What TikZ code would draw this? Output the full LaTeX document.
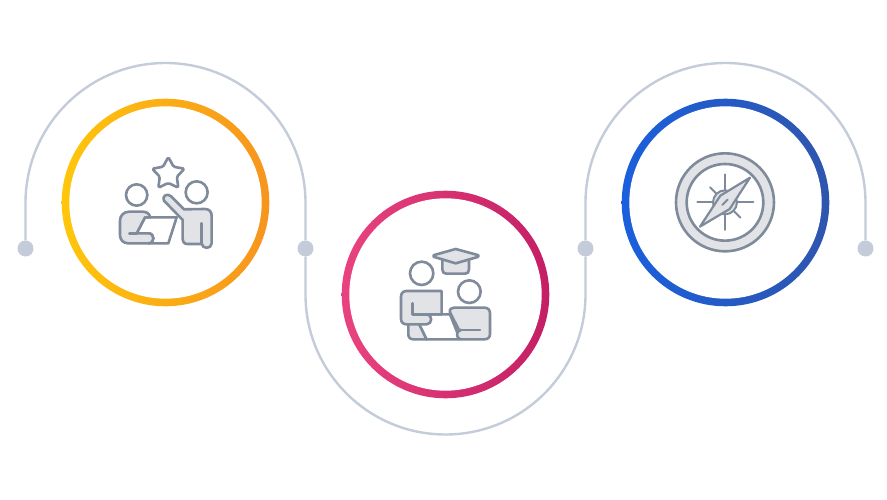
\documentclass[tikz,border=0pt]{standalone}
\usepackage{tikz}
\usetikzlibrary{shapes.geometric}
\definecolor{linecol}{HTML}{C4CCD9}
\definecolor{iconcol}{HTML}{7F8A9B}
\definecolor{iconfill}{HTML}{E2E3E6}
\definecolor{ringyellowA}{HTML}{FFC60B}
\definecolor{ringyellowB}{HTML}{F7941D}
\definecolor{ringpinkA}{HTML}{E9437F}
\definecolor{ringpinkB}{HTML}{C41F66}
\definecolor{ringblueA}{HTML}{1A5FDD}
\definecolor{ringblueB}{HTML}{2F56AE}
\tikzset{
  link/.style={draw=linecol, line width=2.4pt},
  dot/.style={circle, fill=linecol, minimum size=16pt, inner sep=0pt},
  ring/.style={circle, minimum size=207.6pt, inner sep=0pt},
  hole/.style={circle, fill=white, minimum size=192.4pt, inner sep=0pt},
  icon/.style={draw=iconcol, line width=2.6pt, line join=round, line cap=round},
  iconbody/.style={icon, fill=iconfill},
  iconwhite/.style={icon, fill=white},
  zoomed/.style={x=0.3333pt, y=-0.3333pt}
}
\begin{document}
\begin{tikzpicture}[x=1pt, y=-1pt]

    \useasboundingbox (0, 0) rectangle (887, 500);
    \fill[white] (0, 0) rectangle (887, 500);

    \node[dot] (dot1) at (25.5, 248.5) {};
    \node[dot] (dot2) at (305.5, 248.5) {};
    \node[dot] (dot3) at (585.5, 248.5) {};
    \node[dot] (dot4) at (865.5, 248.5) {};

    % connectors
    \draw[link] (dot1.north) -- (25.5, 203) arc (180:360:140) -- (dot2.north);
    \draw[link] (dot2.south) -- (305.5, 294.5) arc (180:0:140) -- (dot3.south);
    \draw[link] (dot3.north) -- (585.5, 203) arc (180:360:140) -- (dot4.north);

    % rings
    \node[ring, left color=ringyellowA, right color=ringyellowB] (ring1) at (165.5, 202.5) {};
    \node[hole] (hole1) at (ring1) {};
    \node[ring, left color=ringpinkA, right color=ringpinkB] (ring2) at (445.5, 294.5) {};
    \node[hole] (hole2) at (ring2) {};
    \node[ring, left color=ringblueA, right color=ringblueB] (ring3) at (725.5, 202.5) {};
    \node[hole] (hole3) at (ring3) {};

    % first icon
    \begin{scope}[shift={(100, 140)}, zoomed]
      \node[icon, fill=white, star, star points=5, star point ratio=1.9, minimum size=34pt,
        inner sep=0pt, rounded corners=1.5pt] (star1) at (205, 102) {};
      \draw[iconwhite] (110, 165) circle (32);
      \draw[iconwhite] (290, 157) circle (33);
      \draw[iconwhite] (135, 232) -- (230, 232) -- (205, 310) -- (145, 310)
        .. controls (165, 310) and (165, 280) .. (145, 280) -- (110, 280) -- cycle;
      \draw[iconbody] (150, 232) .. controls (150, 222) and (140, 215) .. (128, 215)
        -- (88, 215) .. controls (70, 215) and (60, 228) .. (60, 242) -- (60, 285)
        .. controls (60, 300) and (70, 310) .. (85, 310) -- (145, 310)
        .. controls (165, 310) and (165, 280) .. (145, 280) -- (110, 280) -- (135, 232) -- cycle;
      \draw[icon] (88, 280) -- (110, 280);
      \draw[iconbody] (192, 182) .. controls (185, 170) and (200, 158) .. (212, 168)
        -- (252, 208) -- (315, 207) .. controls (328, 207) and (335, 215) .. (335, 228)
        -- (335, 310) .. controls (335, 328) and (305, 328) .. (305, 310)
        -- (305, 312) -- (262, 312) .. controls (252, 312) and (248, 305) .. (248, 295)
        -- (248, 240) -- cycle;
      \draw[icon] (305, 250) -- (305, 312);
    \end{scope}

    % second icon
    \begin{scope}[shift={(385, 235)}, zoomed]
      \draw[iconwhite] (110, 115) circle (35);
      \draw[iconwhite] (253, 170) circle (34);
      \draw[iconbody] (172, 72) -- (172, 103) .. controls (172, 112) and (176, 116) .. (184, 116)
        -- (240, 116) .. controls (248, 116) and (252, 112) .. (252, 103) -- (252, 72) -- cycle;
      \draw[iconbody] (212, 42) -- (278, 60) .. controls (282, 62) and (282, 64) .. (278, 66)
        -- (212, 85) -- (148, 66) .. controls (144, 64) and (144, 62) .. (148, 60) -- cycle;
      \draw[iconbody] (70, 262) -- (70, 298) .. controls (70, 308) and (76, 313) .. (86, 313)
        -- (125, 313) -- (100, 262) -- cycle;
      \draw[iconwhite] (100, 262) -- (125, 313) -- (225, 313) -- (195, 238) -- (130, 238) -- cycle;
      \draw[iconbody] (48, 185) .. controls (48, 174) and (55, 168) .. (65, 168)
        -- (170, 168) -- (170, 238) -- (125, 238)
        .. controls (143, 238) and (143, 268) .. (125, 268)
        -- (65, 268) .. controls (55, 268) and (48, 262) .. (48, 252) -- cycle;
      \draw[icon] (82, 205) -- (82, 238) -- (125, 238);
      \draw[iconbody] (195, 232) .. controls (193, 223) and (198, 218) .. (207, 218)
        -- (298, 218) .. controls (309, 218) and (315, 225) .. (315, 235)
        -- (315, 297) .. controls (315, 307) and (309, 313) .. (298, 313)
        -- (228, 313) .. controls (212, 313) and (212, 285) .. (228, 285)
        -- (222, 285) -- cycle;
      \draw[icon] (222, 285) -- (285, 285);
    \end{scope}

    % third icon
    \begin{scope}[shift={(665, 145)}, zoomed]
      \draw[iconbody, even odd rule] (180, 172) circle (147) (180, 172) circle (115);
      \draw[icon, line width=2pt] (180, 88) -- (180, 255);
      \draw[icon, line width=2pt] (97, 172) -- (265, 172);
      \draw[icon, line width=2pt] (135, 127) -- (226, 218);
      \draw[iconbody, line width=2pt] (180, 172) circle (36);
      \fill[iconfill] (255, 98) -- (166, 152) -- (105, 245) -- (194, 192) -- cycle;
      \draw[icon, line width=2.2pt] (255, 98) -- (166, 152) -- (105, 245) -- (194, 192) -- cycle;
      \draw[icon, line width=2pt] (172, 180) -- (188, 164);
    \end{scope}

\end{tikzpicture}
\end{document}
